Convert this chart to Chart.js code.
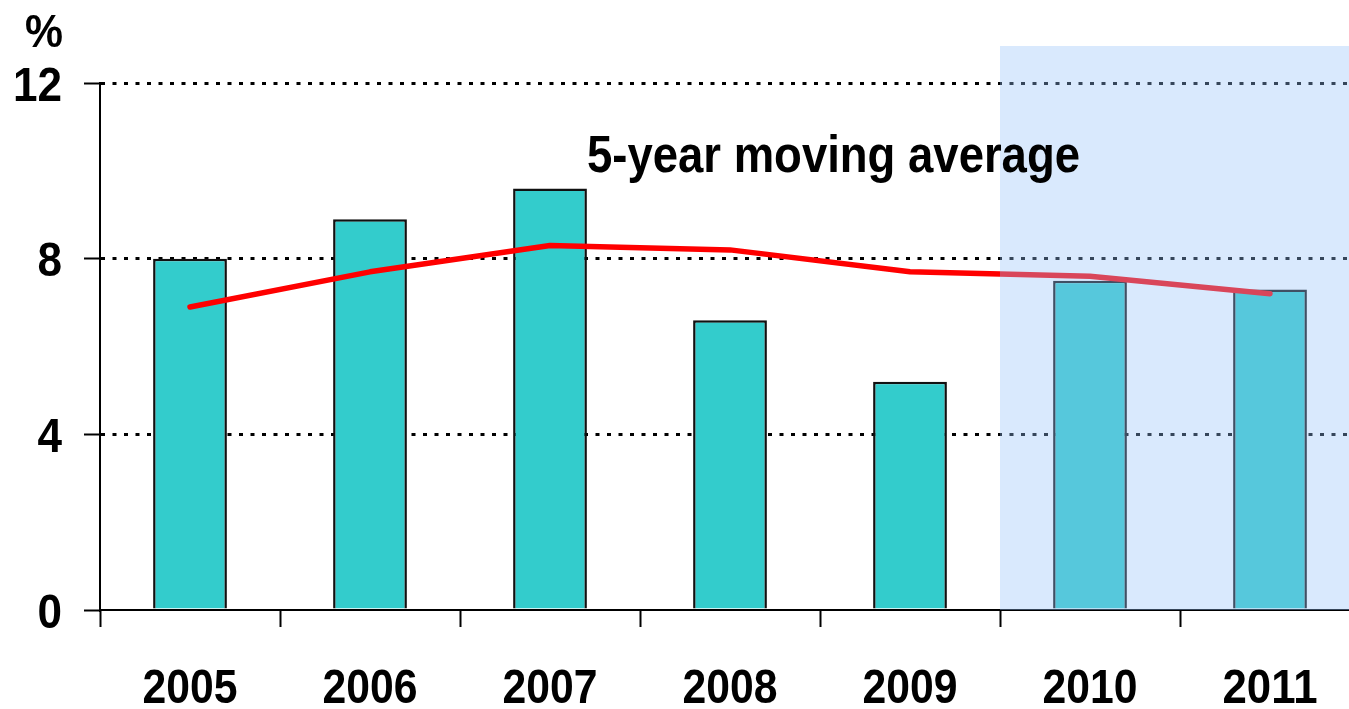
<!DOCTYPE html>
<html>
<head>
<meta charset="utf-8">
<script src="https://cdn.jsdelivr.net/npm/chart.js@4.4.1/dist/chart.umd.min.js"></script>
<style>
    html, body { margin: 0; padding: 0; background: #fff; overflow: hidden; }
    #wrap { width: 1360px; height: 709px; }
</style>
</head>
<body>
<div id="wrap"><canvas id="growthChart" width="1360" height="709"></canvas></div>
<script>
const years = ['2005', '2006', '2007', '2008', '2009', '2010', '2011'];
const growth = [8.0, 8.9, 9.6, 6.6, 5.2, 7.5, 7.3];       // annual rate, %
const movingAvg = [6.9, 7.7, 8.3, 8.2, 7.7, 7.6, 7.2];    // 5-year moving average, %
const yTicks = [0, 4, 8, 12];
const forecastFrom = '2010'; // shaded years start here

const FONT = "'Liberation Sans', Arial, sans-serif";

// shaded forecast block + labels (narrow bold type, drawn by hand)
const overlayPlugin = {
    id: 'overlay',
    afterDatasetsDraw(chart) {
        const { ctx, chartArea, scales } = chart;
        const x = scales.x;
        const idx = years.indexOf(forecastFrom);
        const half = (x.getPixelForValue(1) - x.getPixelForValue(0)) / 2;
        const left = x.getPixelForValue(idx) - half;
        ctx.save();
        ctx.fillStyle = 'rgba(150, 194, 250, 0.36)';
        ctx.fillRect(left, 46, chartArea.right - left, chartArea.bottom - 46);
        ctx.restore();
    },
    afterDraw(chart) {
        const { ctx, scales } = chart;
        ctx.save();
        ctx.fillStyle = '#000';
        ctx.textBaseline = 'alphabetic';

        ctx.font = 'bold 46px ' + FONT;
        ctx.textAlign = 'left';
        ctx.fillText('%', 25, 47, 38);

        ctx.font = 'bold 52px ' + FONT;
        ctx.fillText('5-year moving average', 587, 172, 493);

        // y tick labels
        ctx.font = 'bold 49px ' + FONT;
        ctx.textAlign = 'right';
        yTicks.forEach(v => {
            const py = scales.y.getPixelForValue(v);
            const label = String(v);
            ctx.fillText(label, 62, py + 17.5, label.length * 24.5);
        });

        // x tick labels
        ctx.textAlign = 'center';
        years.forEach((yr, i) => {
            const px = scales.x.getPixelForValue(i);
            ctx.fillText(yr, px, 703, 95);
        });
        ctx.restore();
    }
};

new Chart(document.getElementById('growthChart').getContext('2d'), {
    data: {
        labels: years,
        datasets: [{
            type: 'line',
            label: '5-year moving average',
            data: movingAvg,
            borderColor: '#ff0000',
            borderWidth: 5.5,
            borderCapStyle: 'round',
            borderJoinStyle: 'round',
            pointRadius: 0,
            tension: 0,
            order: 1
        }, {
            type: 'bar',
            label: 'Growth',
            data: growth,
            backgroundColor: '#33cccc',
            borderColor: '#111',
            borderWidth: 2.5,
            barPercentage: 0.41,
            categoryPercentage: 1,
            order: 2
        }]
    },
    options: {
        responsive: false,
        animation: false,
        layout: { padding: { top: 83, right: 0, left: 0, bottom: 0 } },
        plugins: {
            legend: { display: false },
            tooltip: { enabled: false }
        },
        scales: {
            x: {
                offset: true,
                grid: {
                    offset: true,
                    drawOnChartArea: false,
                    tickLength: 17,
                    tickWidth: 2,
                    tickColor: '#000'
                },
                border: { color: '#000', width: 2 },
                ticks: { display: false },
                afterFit(scale) { scale.height = 99; }
            },
            y: {
                min: 0,
                max: 12,
                afterBuildTicks(scale) {
                    scale.ticks = yTicks.map(v => ({ value: v }));
                },
                grid: {
                    color: ctx => (ctx.tick && ctx.tick.value === 0) ? 'rgba(0,0,0,0)' : '#000',
                    lineWidth: 3,
                    tickLength: 16,
                    tickWidth: 2,
                    tickColor: '#000',
                    tickBorderDash: []
                },
                border: { color: '#000', width: 2, dash: [4, 7.5] },
                ticks: { display: false },
                afterFit(scale) { scale.width = 100; }
            }
        }
    },
    plugins: [overlayPlugin]
});
</script>
</body>
</html>
